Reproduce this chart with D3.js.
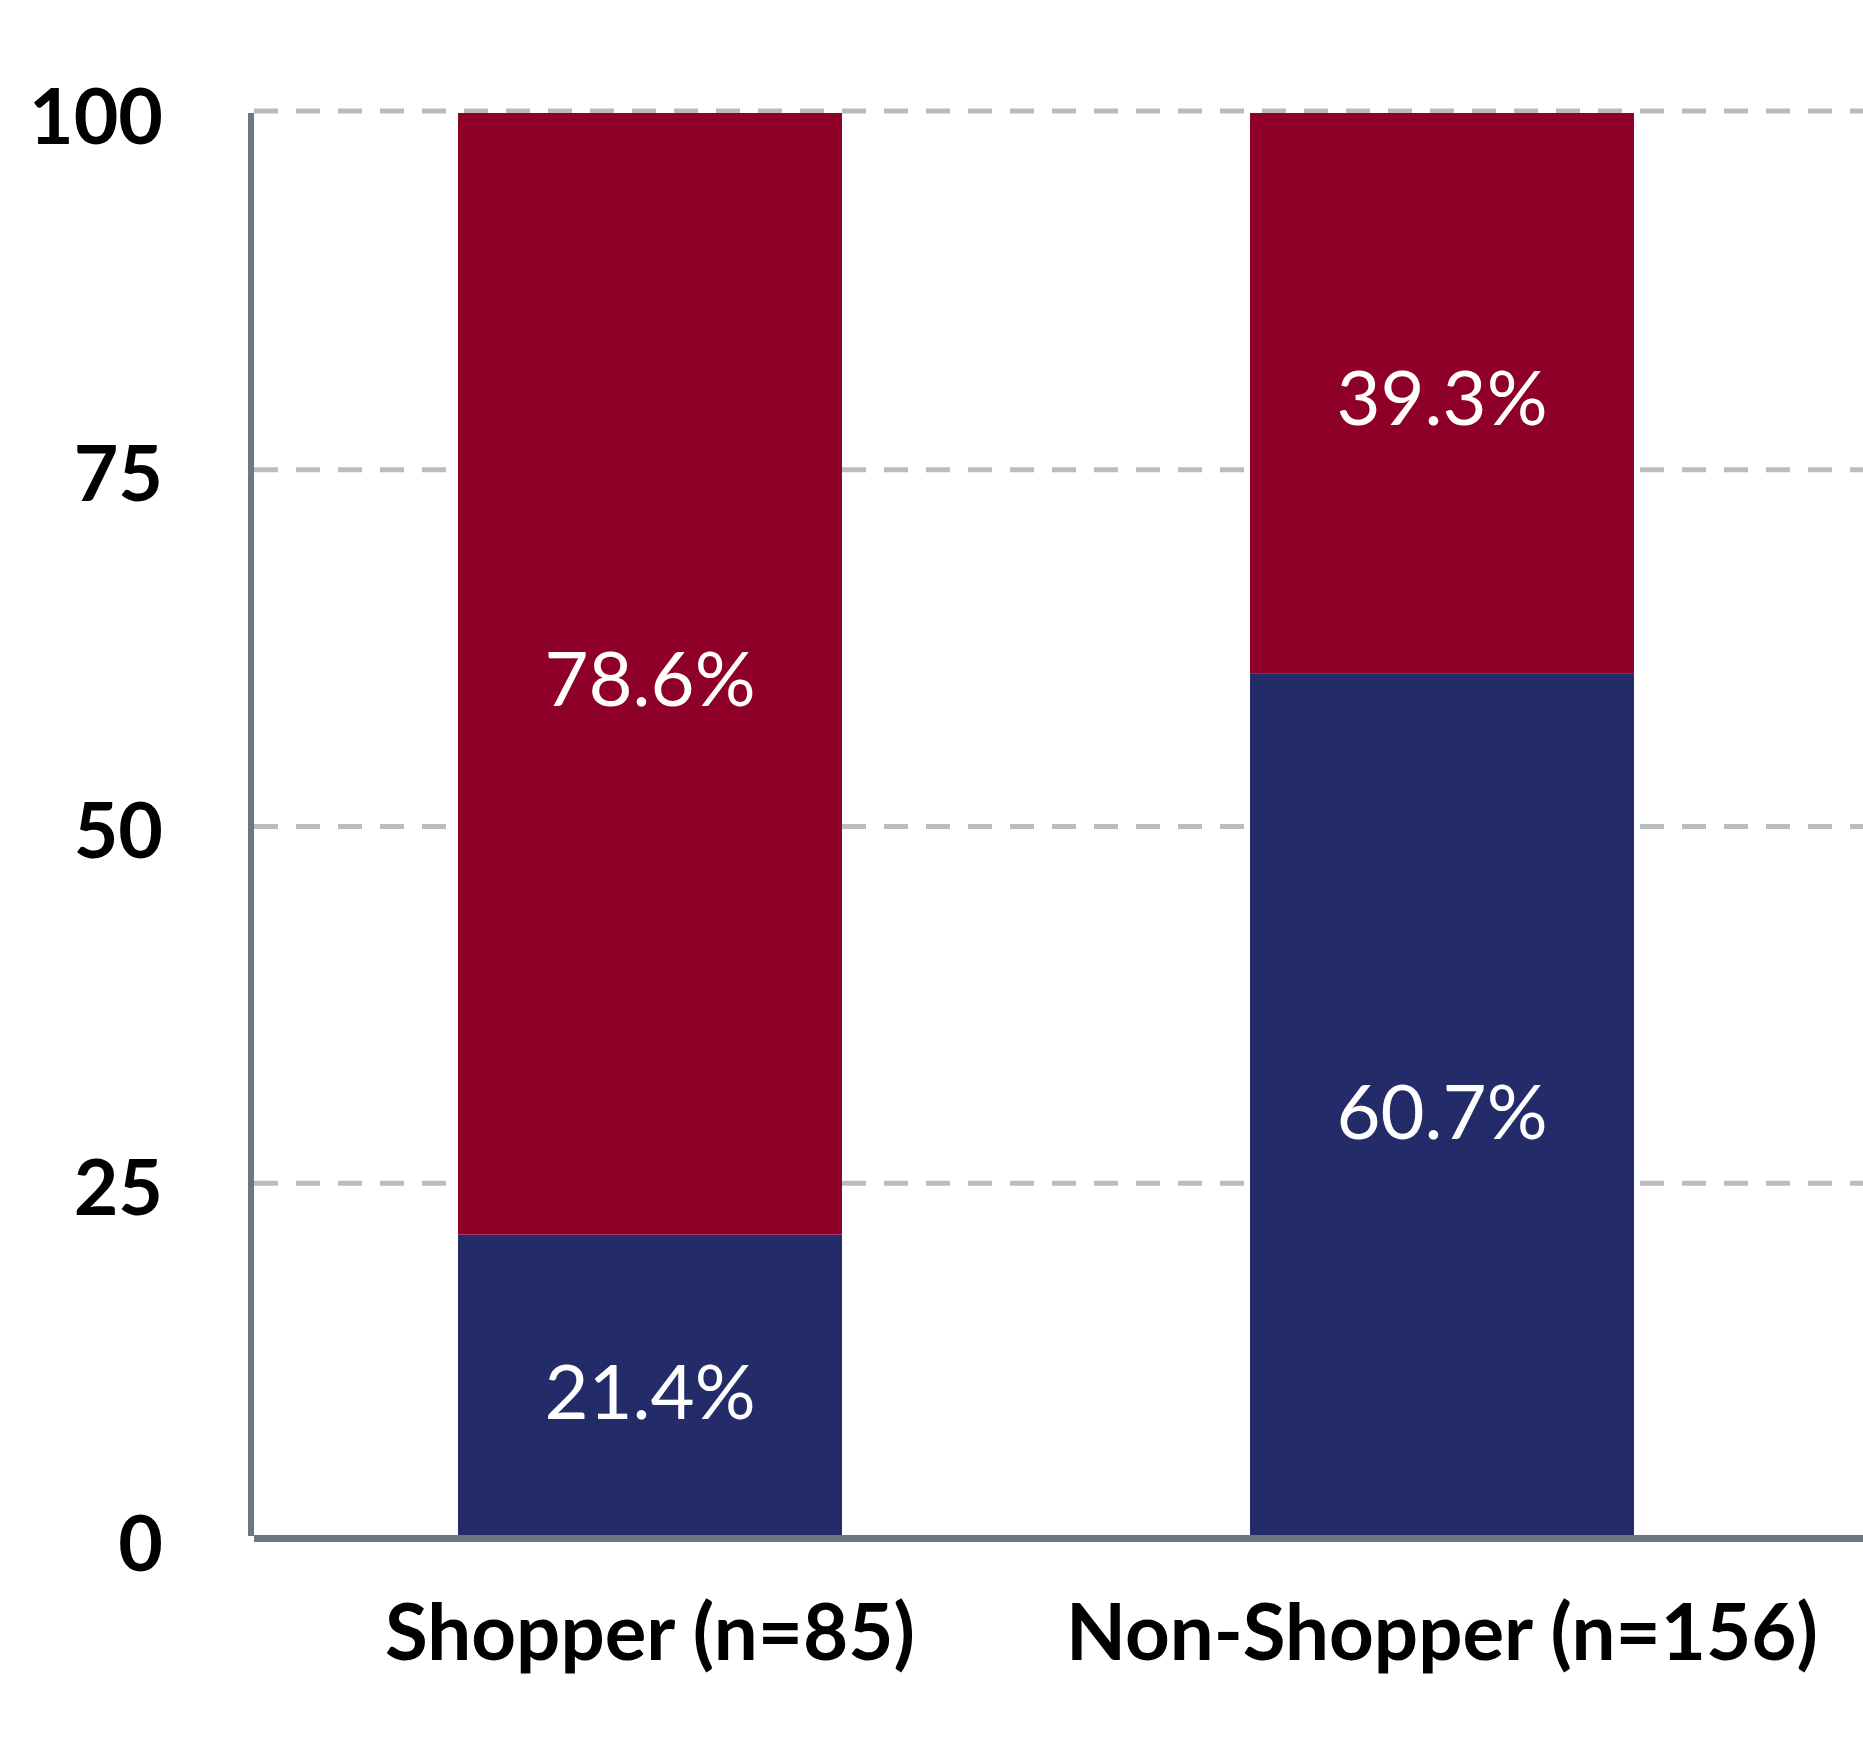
<!DOCTYPE html>
<html>
<head>
<meta charset="utf-8">
<script src="https://cdn.jsdelivr.net/npm/d3@7"></script>
<style>
  html, body { margin: 0; padding: 0; background: #ffffff; }
  svg { display: block; }
</style>
</head>
<body>
<div id="chart"></div>
<script>
// ---- Data ----
const categories = ["Shopper (n=85)", "Non-Shopper (n=156)"];
const bottomValues = [21.4, 60.7];   // navy segment
const topValues = [78.6, 39.3];      // red segment
const yTicks = [0, 25, 50, 75, 100];
const gridTicks = [25, 50, 75, 100];

// ---- Layout ----
const W = 1863, H = 1751;
const colors = { bottom: "#232c68", top: "#8f0029" };

const svg = d3.select("#chart").append("svg")
  .attr("width", W).attr("height", H)
  .style("background", "#ffffff");

const x = d3.scaleBand()
  .domain(categories)
  .range([254, 1838])
  .paddingInner(0.5152)
  .paddingOuter(0.2576);

const y = d3.scaleLinear().domain([0, 100]).range([1540, 113]);

// Gridlines
svg.append("g").selectAll("line").data(gridTicks).join("line")
  .attr("x1", 254).attr("x2", W)
  .attr("y1", d => d === 100 ? y(d) - 2 : y(d))
  .attr("y2", d => d === 100 ? y(d) - 2 : y(d))
  .attr("stroke", "#b9bcc0")
  .attr("stroke-width", 5)
  .attr("stroke-dasharray", "24 18");

// Stacked data
const rows = categories.map((c, i) => ({ cat: c, bottom: bottomValues[i], top: topValues[i] }));
const stack = d3.stack().keys(["bottom", "top"])(rows);

const layers = svg.append("g").selectAll("g").data(stack).join("g")
  .attr("fill", d => colors[d.key]);

layers.selectAll("rect").data(d => d).join("rect")
  .attr("x", d => x(d.data.cat))
  .attr("width", x.bandwidth())
  .attr("y", d => y(d[1]))
  .attr("height", d => y(d[0]) - y(d[1]));

// Value labels
const labels = svg.append("g");
stack.forEach(layer => {
  labels.selectAll(null).data(layer).join("text")
    .attr("x", d => x(d.data.cat) + x.bandwidth() / 2)
    .attr("y", d => y((d[0] + d[1]) / 2))
    .attr("dy", "0.42em")
    .attr("text-anchor", "middle")
    .attr("fill", "#ffffff")
    .style("font-family", "Lato, 'Open Sans', sans-serif")
    .style("font-weight", 400)
    .style("font-size", "76px")
    .text(d => (d[1] - d[0]).toFixed(1) + "%");
});

// Y axis labels
const yAxis = d3.axisLeft(y).tickValues(yTicks).tickSize(0).tickPadding(88);
const gy = svg.append("g").attr("transform", "translate(251,0)").call(yAxis);
gy.select(".domain").remove();
gy.selectAll("text")
  .attr("dy", "0.4em")
  .attr("fill", "#000000")
  .style("font-family", "Lato, 'Open Sans', sans-serif")
  .style("font-weight", 700)
  .style("font-size", "77px");

// Axis lines
svg.append("line")
  .attr("x1", 251).attr("x2", 251)
  .attr("y1", 113).attr("y2", 1536)
  .attr("stroke", "#6d7780").attr("stroke-width", 6);
svg.append("line")
  .attr("x1", 254).attr("x2", W)
  .attr("y1", 1538.5).attr("y2", 1538.5)
  .attr("stroke", "#6d7780").attr("stroke-width", 7);

// X category labels
const xAxis = d3.axisBottom(x).tickSize(0).tickPadding(0);
const gx = svg.append("g").attr("transform", "translate(0,1660)").call(xAxis);
gx.select(".domain").remove();
gx.selectAll("text")
  .attr("y", 0).attr("dy", 0)
  .attr("fill", "#000000")
  .style("font-family", "Lato, 'Open Sans', sans-serif")
  .style("font-weight", 700)
  .style("font-size", "78px");
</script>
</body>
</html>
